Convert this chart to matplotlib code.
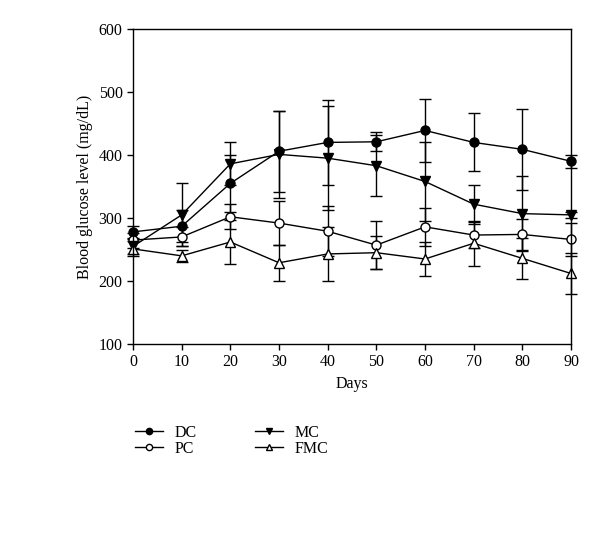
import matplotlib
matplotlib.use("Agg")
import matplotlib.pyplot as plt
from matplotlib.lines import Line2D

# data
days = [0, 10, 20, 30, 40, 50, 60, 70, 80, 90]

dc = [278, 287, 355, 406, 420, 421, 439, 420, 409, 390]
dc_err = [10, 25, 45, 64, 68, 15, 50, 46, 64, 10]

mc = [255, 305, 386, 401, 395, 383, 358, 322, 307, 305]
mc_err = [12, 50, 34, 69, 83, 48, 62, 31, 60, 5]

pc = [265, 270, 302, 292, 279, 257, 286, 273, 274, 266]
pc_err = [12, 15, 20, 35, 40, 38, 30, 20, 25, 26]

fmc = [251, 240, 262, 229, 243, 245, 235, 260, 236, 212]
fmc_err = [12, 10, 35, 29, 43, 26, 27, 36, 33, 33]

plt.rcParams['font.family'] = ['Liberation Serif', 'DejaVu Serif']

fig = plt.figure(figsize=(6.0, 5.47), dpi=100)
ax = fig.add_axes([0.2217, 0.371, 0.73, 0.576])

series = [
    ("DC", dc, dc_err, "o", "black"),
    ("PC", pc, pc_err, "o", "white"),
    ("MC", mc, mc_err, "v", "black"),
    ("FMC", fmc, fmc_err, "^", "white"),
]

handles = []
for name, vals, err, mk, fc in series:
    ax.errorbar(days, vals, yerr=err, marker=mk, markersize=6.5,
                markerfacecolor=fc, markeredgecolor="black",
                color="black", linewidth=1.0, elinewidth=1.0,
                capsize=4.5, capthick=1.0, clip_on=False)
    handles.append(Line2D([], [], color="black", linewidth=1.0, marker=mk,
                          markersize=4.5, markerfacecolor=fc,
                          markeredgecolor="black"))

ax.set_xlim(0, 90)
ax.set_ylim(100, 600)
ax.set_xticks(days)
ax.set_yticks([100, 200, 300, 400, 500, 600])
ax.tick_params(direction="out", length=4, width=1, labelsize=11.5,
               top=False, right=False)
for s in ax.spines.values():
    s.set_linewidth(1.0)

ax.set_xlabel("Days", fontsize=11.5)
ax.set_ylabel("Blood glucose level (mg/dL)", fontsize=11.5)

fig.legend(handles=handles, labels=[s[0] for s in series], ncol=2,
           loc="upper left", bbox_to_anchor=(0.225, 0.223), frameon=False,
           fontsize=11.5, handlelength=1.75, columnspacing=3.6,
           labelspacing=0.0, handletextpad=0.75, borderpad=0,
           borderaxespad=0)

fig.savefig("out.png", dpi=100)
